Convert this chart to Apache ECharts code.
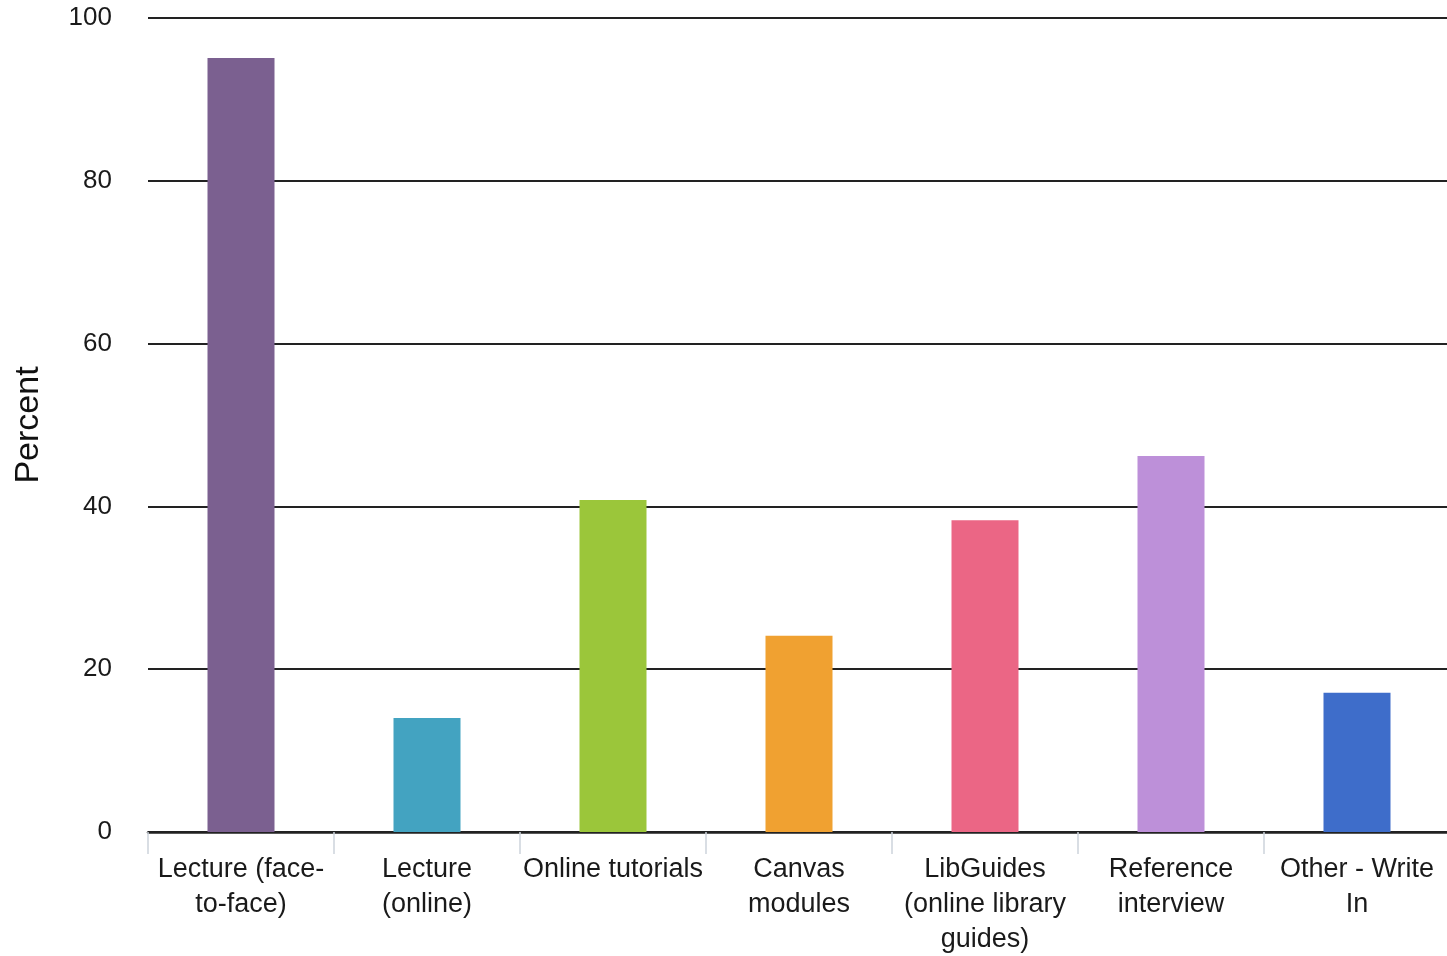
<!DOCTYPE html>
<html>
<head>
<meta charset="utf-8">
<script src="https://cdn.jsdelivr.net/npm/echarts@6/dist/echarts.min.js"></script>
<style>
html,body{margin:0;padding:0;background:#fff;}
#chart{width:1447px;height:956px;}
</style>
</head>
<body>
<div id="chart"></div>
<script>
var categories = [
  "Lecture (face-\nto-face)",
  "Lecture\n(online)",
  "Online tutorials",
  "Canvas\nmodules",
  "LibGuides\n(online library\nguides)",
  "Reference\ninterview",
  "Other - Write\nIn"
];
var percentValues = [95.1, 14.0, 40.8, 24.1, 38.3, 46.2, 17.1];
var barColors = ["#7b6090", "#43a3c1", "#9bc63a", "#f0a131", "#eb6685", "#bd90d9", "#3e6dca"];
var yTicks = [0, 20, 40, 60, 80, 100];

var chart = echarts.init(document.getElementById('chart'));
var font = "'Liberation Sans', Arial, Helvetica, sans-serif";
chart.setOption({
  animation: false,
  backgroundColor: '#fff',
  grid: {left: 148, right: -3, top: 18, bottom: 124, containLabel: false, outerBoundsMode: 'none'},
  xAxis: {
    type: 'category',
    data: categories,
    axisLine: {show: true, lineStyle: {color: '#222', width: 2.5}},
    axisTick: {show: true, length: 22, lineStyle: {color: '#cdd3dc', width: 1.5}},
    axisLabel: {
      interval: 0, margin: 20, color: '#1a1a1a',
      fontFamily: font, fontSize: 27, lineHeight: 35, align: 'center'
    }
  },
  yAxis: {
    type: 'value',
    min: yTicks[0], max: yTicks[yTicks.length - 1], interval: 20,
    name: 'Percent', nameLocation: 'middle', nameGap: 102, nameRotate: 90,
    nameTextStyle: {fontFamily: font, fontSize: 34, color: '#111'},
    axisLine: {show: false},
    axisTick: {show: false},
    axisLabel: {margin: 36, color: '#1a1a1a', fontFamily: font, fontSize: 26},
    splitLine: {show: true, lineStyle: {color: '#222', width: 2}}
  },
  series: [{
    type: 'bar',
    barWidth: 67,
    data: percentValues.map(function (v, i) {
      return {value: v, itemStyle: {color: barColors[i]}};
    })
  }]
});
</script>
</body>
</html>
